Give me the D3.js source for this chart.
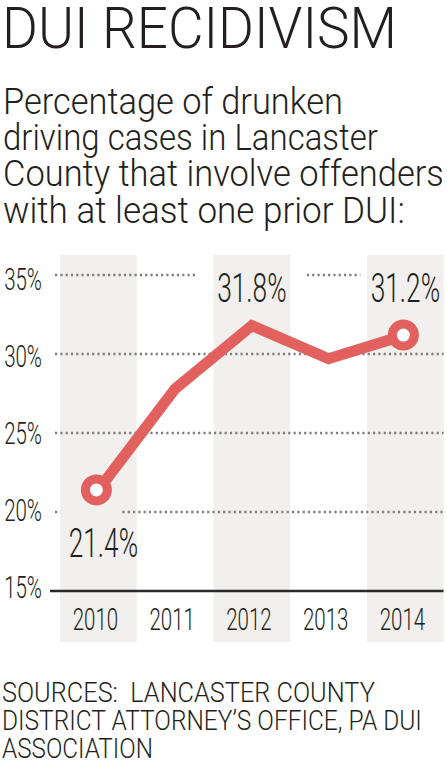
<!DOCTYPE html>
<html>
<head>
<meta charset="utf-8">
<script src="https://cdn.jsdelivr.net/npm/d3@7"></script>
<style>
  html, body { margin: 0; padding: 0; background: #ffffff; }
  svg { display: block; }
  text { font-family: Roboto, "Open Sans", "DejaVu Sans", sans-serif; font-weight: 300; fill: #231f20; white-space: pre; }
</style>
</head>
<body>
<svg id="chart" width="447" height="765"></svg>
<script>
// ---- data ----
const years = ["2010", "2011", "2012", "2013", "2014"];
const values = [21.4, 27.8, 31.8, 29.7, 31.2];
const yTicks = [15, 20, 25, 30, 35];
const labeledYears = ["2010", "2012", "2014"];
const labelPlacement = ["below", "above", "above"];
const title = "DUI RECIDIVISM";
const subtitleLines = [
  "Percentage of drunken",
  "driving cases in Lancaster",
  "County that involve offenders",
  "with at least one prior DUI:"
];
const sourceLines = [
  "SOURCES:  LANCASTER COUNTY",
  "DISTRICT ATTORNEY\u2019S OFFICE, PA DUI",
  "ASSOCIATION"
];

// ---- styles ----
const lineColor = "#e2615f";
const bandColor = "#f1f0ee";
const gridColor = "#7e7e7e";
const textColor = "#231f20";

const svg = d3.select("#chart");

// place a text so that its width matches the reference typeface width
function fitText(x0, y0, size, str, targetWidth) {
  const t = svg.append("text").attr("font-size", size).text(str);
  const w = t.node().getComputedTextLength();
  const k = w > 0 ? targetWidth / w : 1;
  t.attr("transform", `translate(${x0},${y0}) scale(${k},1)`);
  return t;
}

fitText(2, 48, 57, title, 395);

const subWidths = [340, 375, 441, 402];
subtitleLines.forEach((t, i) => fitText(3, 114 + i * 36.2, 37, t, subWidths[i]));

const srcWidths = [373, 420, 151];
sourceLines.forEach((t, i) => fitText(2, 702 + i * 28, 28, t, srcWidths[i]));

// ---- scales ----
const x = d3.scaleBand().domain(years).range([60, 443.75]).padding(0);
const y = d3.scaleLinear().domain([15, 35]).range([591, 275]);
const yLabel = d3.scaleLinear().domain([15, 35]).range([598, 290]);
const cx = d => x(d) + x.bandwidth() / 2;
const sx = 0.64; // condensed horizontal scale for numerals

// alternating bands
svg.append("g").selectAll("rect")
  .data(years.filter((d, i) => i % 2 === 0))
  .join("rect")
  .attr("x", d => x(d))
  .attr("width", x.bandwidth())
  .attr("y", 255)
  .attr("height", 642 - 255)
  .attr("fill", bandColor);

// gridlines with gaps around labels
const gaps = {
  35: [[cx("2012") - 54, cx("2012") + 55], [cx("2014") - 45, 460]],
  20: [[cx("2010") - 38, cx("2010") + 24]]
};
const gridG = svg.append("g");
yTicks.filter(t => t !== 15).forEach(t => {
  let segs = [[55, 443.5]];
  (gaps[t] || []).forEach(([a, b]) => {
    const out = [];
    segs.forEach(([s, e]) => {
      if (b <= s || a >= e) { out.push([s, e]); return; }
      if (a > s) out.push([s, a]);
      if (b < e) out.push([b, e]);
    });
    segs = out;
  });
  segs.forEach(([s, e]) => {
    gridG.append("line")
      .attr("x1", s).attr("x2", e)
      .attr("y1", y(t)).attr("y2", y(t))
      .attr("stroke", gridColor)
      .attr("stroke-width", 2.5)
      .attr("stroke-dasharray", "2.2 3.1");
  });
});

// baseline at 15%
svg.append("line")
  .attr("x1", 50).attr("x2", 443.5)
  .attr("y1", y(15)).attr("y2", y(15))
  .attr("stroke", "#2a2a2a").attr("stroke-width", 2.4);

// y tick labels
svg.append("g").selectAll("text")
  .data(yTicks)
  .join("text")
  .attr("transform", d => `translate(42,${yLabel(d)}) scale(${sx},1)`)
  .attr("text-anchor", "end")
  .attr("font-size", 32)
  .text(d => d + "%");

// x tick labels
svg.append("g").selectAll("text")
  .data(years)
  .join("text")
  .attr("transform", d => `translate(${cx(d) - 3},630) scale(${sx},1)`)
  .attr("text-anchor", "middle")
  .attr("font-size", 32)
  .text(d => d);

// line
const pts = years.map((yr, i) => ({ yr, v: values[i] }));
svg.append("path")
  .datum(pts)
  .attr("fill", "none")
  .attr("stroke", lineColor)
  .attr("stroke-width", 11)
  .attr("stroke-linejoin", "miter")
  .attr("d", d3.line().x(d => cx(d.yr)).y(d => y(d.v)));

// end circles
svg.append("g").selectAll("circle")
  .data(pts.filter(d => d.yr === "2010" || d.yr === "2014"))
  .join("circle")
  .attr("cx", d => cx(d.yr) - 2)
  .attr("cy", d => y(d.v))
  .attr("r", 11)
  .attr("fill", "#ffffff")
  .attr("stroke", lineColor)
  .attr("stroke-width", 9);

// value labels
svg.append("g").selectAll("text")
  .data(labeledYears.map((yr, i) => ({ yr, v: values[years.indexOf(yr)], pos: labelPlacement[i] })))
  .join("text")
  .attr("transform", d => {
    const ty = d.pos === "above" ? y(35) + 27 : y(20) + 45;
    const tx = cx(d.yr) + (d.pos === "below" ? 5 : 0);
    return `translate(${tx},${ty}) scale(${sx},1)`;
  })
  .attr("text-anchor", "middle")
  .attr("font-size", 41)
  .attr("font-weight", 400)
  .attr("fill", textColor)
  .text(d => d.v.toFixed(1) + "%");
</script>
</body>
</html>
